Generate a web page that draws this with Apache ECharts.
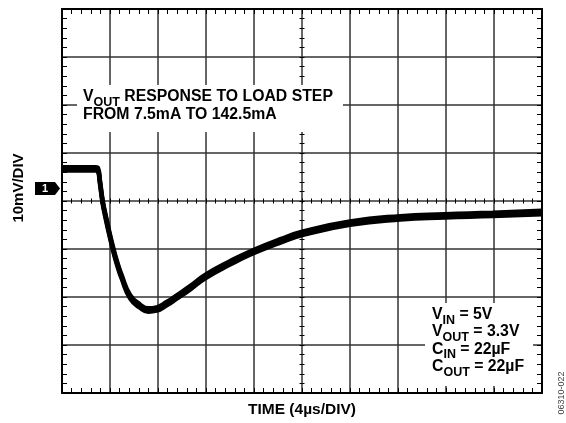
<!DOCTYPE html>
<html>
<head>
<meta charset="utf-8">
<script src="https://cdn.jsdelivr.net/npm/echarts@6.0.0/dist/echarts.min.js"></script>
<style>
  html, body { margin: 0; padding: 0; background: #fff; }
  #chartContainer { width: 566px; height: 423px; }
</style>
</head>
<body>
<div id="chartContainer"></div>
<script>
// scope trace: time in us, VOUT deviation in mV
var timeUs = [0, 2.8, 3, 3.17, 3.39, 3.64, 3.94, 4.28, 4.58, 4.97, 5.67, 6.5, 7.19, 7.89, 8.72, 9.56,
              10.67, 11.9, 14, 15.9, 18.2, 20.1, 24, 28.2, 31.9, 35.9, 40];
var voutMv = [6.7, 6.7, 6.5, 3.8, -0.2, -3.3, -6.7, -10.2, -12.9, -15.8, -19.9, -21.9, -22.7, -22.5, -21.4, -20.0,
              -18.1, -15.8, -12.9, -10.6, -8.3, -6.7, -4.6, -3.5, -3.1, -2.8, -2.4];

// axis ticks (4us/div, 10mV/div)
var xTicks = [0, 4, 8, 12, 16, 20, 24, 28, 32, 36, 40];
var yTicks = [-40, -30, -20, -10, 0, 10, 20, 30, 40];

var topNote = ['{b|V}{s|OUT}{b| RESPONSE TO LOAD STEP}', '{b|FROM 7.5mA TO 142.5mA}'];
var condNote = ['{b|V}{s|IN}{b| = 5V}', '{b|V}{s|OUT}{b| = 3.3V}', '{b|C}{s|IN}{b| = 22µF}', '{b|C}{s|OUT}{b| = 22µF}'];

var FONT = 'Liberation Sans, Arial, sans-serif';
var TRACE_SPREAD = 0.35; // noise band of the scope trace, mV

var myChart = echarts.init(document.getElementById('chartContainer'), null, { renderer: 'canvas' });

function frameAxis(pos, extra) {
    var a = {
        type: 'value',
        position: pos,
        axisLine: { show: true, onZero: false, lineStyle: { color: '#000', width: 2 } },
        axisTick: { show: true, inside: true, length: 5, lineStyle: { color: '#000', width: 1 } },
        minorTick: { show: true, splitNumber: 5, length: 5, lineStyle: { color: '#000', width: 1 } },
        axisLabel: { show: false },
        splitLine: { show: false }
    };
    return Object.assign(a, extra);
}

function centerAxis(pos, offset, inside, extra) {
    var a = {
        type: 'value',
        position: pos,
        offset: offset,
        axisLine: { show: false, onZero: false },
        axisTick: { show: true, inside: inside, length: 2.5, lineStyle: { color: '#000', width: 1 } },
        minorTick: { show: true, splitNumber: 5, length: 2.5, lineStyle: { color: '#000', width: 1 } },
        axisLabel: { show: false },
        splitLine: { show: false }
    };
    return Object.assign(a, extra);
}

var xRange = { min: xTicks[0], max: xTicks[xTicks.length - 1], interval: xTicks[1] - xTicks[0] };
var yRange = { min: yTicks[0], max: yTicks[yTicks.length - 1], interval: yTicks[1] - yTicks[0] };
var gridLine = { show: true, lineStyle: { color: '#333', width: 1.5 } };

var traceSeries = [-TRACE_SPREAD, 0, TRACE_SPREAD].map(function (off) {
    return {
        type: 'line',
        xAxisIndex: 0,
        yAxisIndex: 0,
        symbol: 'none',
        smooth: 0.5,
        lineStyle: { color: '#000', width: 4.5, join: 'round' },
        z: 5,
        data: timeUs.map(function (t, i) { return [t, voutMv[i] + off]; })
    };
});

var option = {
    animation: false,
    backgroundColor: '#fff',
    grid: { left: 62, top: 9, width: 480, height: 384, containLabel: false },
    xAxis: [
        frameAxis('bottom', Object.assign({ splitLine: gridLine }, xRange)),
        frameAxis('top', Object.assign({}, xRange)),
        centerAxis('bottom', -192, true, Object.assign({}, xRange)),
        centerAxis('bottom', -192, false, Object.assign({}, xRange))
    ],
    yAxis: [
        frameAxis('left', Object.assign({ splitLine: gridLine }, yRange)),
        frameAxis('right', Object.assign({}, yRange)),
        centerAxis('left', -240, true, Object.assign({}, yRange)),
        centerAxis('left', -240, false, Object.assign({}, yRange))
    ],
    series: traceSeries,
    graphic: [
        // white boxes behind the notes hide the grid
        { type: 'rect', z: 50, shape: { x: 77, y: 85, width: 266, height: 47 }, style: { fill: '#fff' } },
        { type: 'text', z: 51, style: {
            x: 83, y: 88, text: topNote.join('\n'), fill: '#000', verticalAlign: 'top',
            rich: {
                b: { font: 'bold 15.8px ' + FONT, lineHeight: 18, fill: '#000' },
                s: { font: 'bold 12.5px ' + FONT, lineHeight: 18, padding: [11, 0, 0, 0], fill: '#000' }
            }
        } },
        { type: 'rect', z: 50, shape: { x: 425, y: 303, width: 108, height: 83 }, style: { fill: '#fff' } },
        { type: 'text', z: 51, style: {
            x: 432, y: 306, text: condNote.join('\n'), fill: '#000', verticalAlign: 'top',
            rich: {
                b: { font: 'bold 15.8px ' + FONT, lineHeight: 17.3, fill: '#000' },
                s: { font: 'bold 12.5px ' + FONT, lineHeight: 17.3, padding: [11, 0, 0, 0], fill: '#000' }
            }
        } },
        // channel 1 marker
        { type: 'polygon', z: 50, shape: { points: [[35, 182], [55, 182], [60, 188.5], [55, 195], [35, 195]] }, style: { fill: '#000' } },
        { type: 'text', z: 51, style: { x: 45, y: 189, text: '1', fill: '#fff', font: 'bold 11px ' + FONT, align: 'center', verticalAlign: 'middle' } },
        // axis titles
        { type: 'text', z: 51, x: 19, y: 188, rotation: Math.PI / 2, style: { x: 0, y: 0, text: '10mV/DIV', fill: '#000', font: 'bold 15px ' + FONT, align: 'center', verticalAlign: 'middle' } },
        { type: 'text', z: 51, style: { x: 302, y: 410, text: 'TIME (4µs/DIV)', fill: '#000', font: 'bold 15.5px ' + FONT, align: 'center', verticalAlign: 'middle' } },
        { type: 'text', z: 51, x: 562, y: 393, rotation: Math.PI / 2, style: { x: 0, y: 0, text: '06310-022', fill: '#444', font: '9px ' + FONT, align: 'center', verticalAlign: 'middle' } }
    ]
};

myChart.setOption(option);
</script>
</body>
</html>
